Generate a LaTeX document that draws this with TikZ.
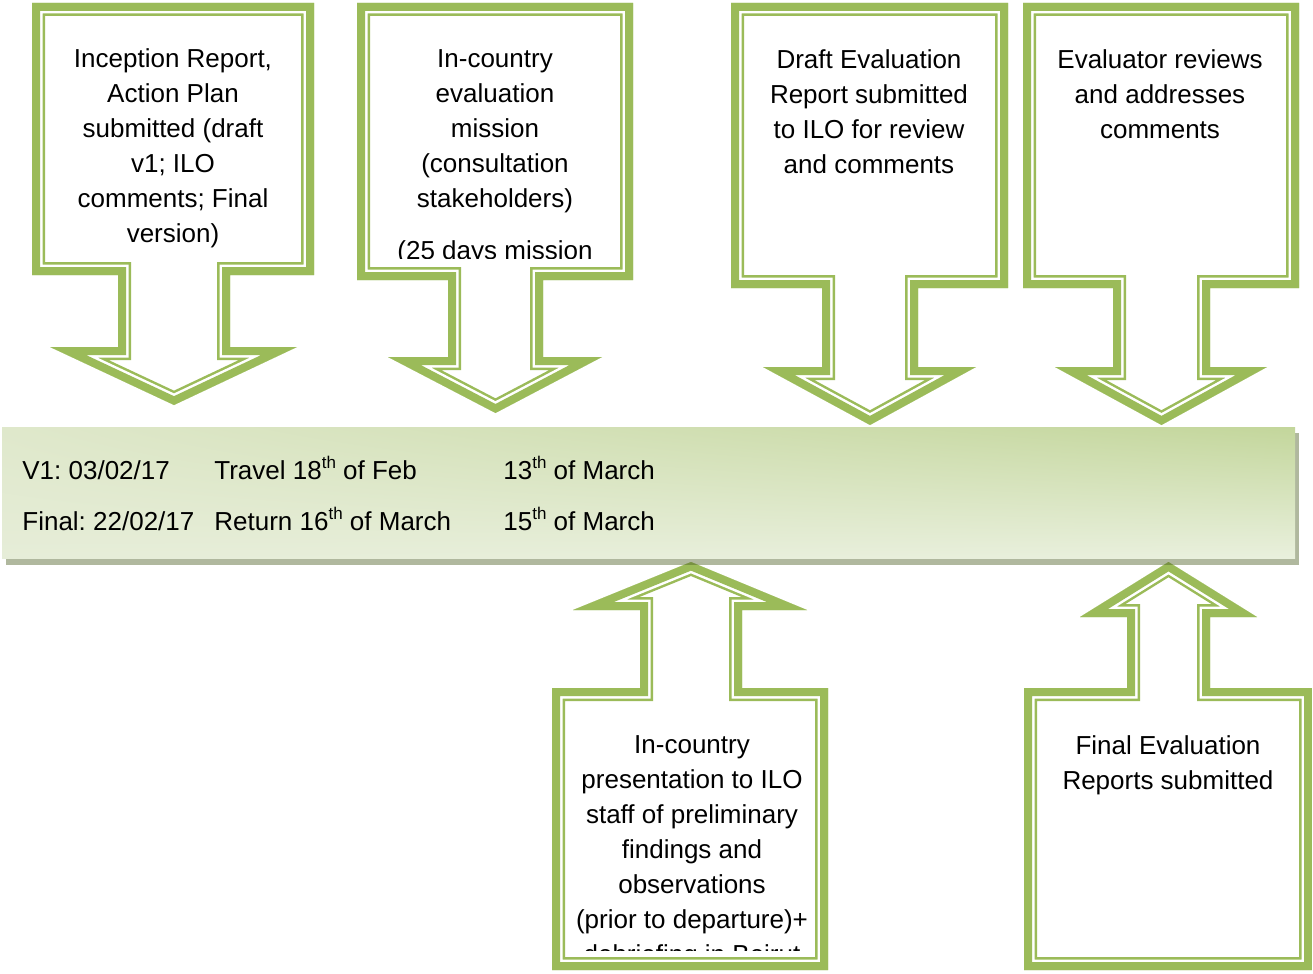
\documentclass[tikz,border=0pt]{standalone}
\usepackage{fontspec}
\setmainfont{Liberation Sans}
\usetikzlibrary{shadings}
\frenchspacing
\definecolor{calloutgreen}{HTML}{9BBB59}
\definecolor{bardark}{HTML}{C3D69B}
\definecolor{barleft}{HTML}{DFE8CB}
\definecolor{barlowleft}{HTML}{E6EDD8}
\definecolor{barlowright}{HTML}{E9F0DD}
\definecolor{barshadow}{HTML}{4F6228}
\newcommand{\ord}[1]{\raisebox{0.42em}{\fontsize{8.5}{8.5}\selectfont #1}}
\tikzset{
  greenline/.style={draw=calloutgreen, line join=miter, miter limit=20},
  calltext/.style={align=center, inner sep=0pt, anchor=north, font=\fontsize{13}{17.5}\selectfont},
  rowtext/.style={anchor=base west, inner sep=0pt, font=\fontsize{13}{17.5}\selectfont}
}
% thick-thin frame drawn inside the outline
\newcommand{\dblframe}[1]{%
  \begin{scope}
    \clip #1;
    \fill[white] #1;
    \draw[greenline, line width=13pt] #1;
    \draw[white, line width=10.5pt, line join=miter, miter limit=20] #1;
    \draw[greenline, line width=8pt] #1;
  \end{scope}}
\begin{document}
\begin{tikzpicture}[x=0.5pt,y=-0.5pt]
\useasboundingbox (0,0) rectangle (1313,974);
% callouts pointing down
\foreach \boxl/\boxr/\boxb/\shl/\shr/\wy/\wgl/\wgr/\tipy in {32/314/275/118/230/347/50/297/405, 357/633/280/448/543/357/388/602/413, 731/1008/288/822/918/367/763/976/425, 1023/1299/288/1113/1210/367/1055/1267/425}{
  \dblframe{(\boxl,3) -- (\boxr,3) -- (\boxr,\boxb) -- (\shr,\boxb) -- (\shr,\wy) -- (\wgr,\wy) -- ({(\shl+\shr)/2},\tipy) -- (\wgl,\wy) -- (\shl,\wy) -- (\shl,\boxb) -- (\boxl,\boxb) -- cycle}
}
% callouts pointing up
\foreach \boxl/\boxr/\boxt/\shl/\shr/\wy/\wgl/\wgr/\tipy in {552/828/688/640/742/610/573/807/562, 1024/1312/688/1127/1210/617/1080/1257/562}{
  \dblframe{(\boxl,970) -- (\boxl,\boxt) -- (\shl,\boxt) -- (\shl,\wy) -- (\wgl,\wy) -- ({(\shl+\shr)/2},\tipy) -- (\wgr,\wy) -- (\shr,\wy) -- (\shr,\boxt) -- (\boxr,\boxt) -- (\boxr,970) -- cycle}
}
% time bar
\fill[barshadow, opacity=.45] (6,433) rectangle (1299,565);
\shade[upper left=barleft, upper right=bardark, lower left=barlowleft, lower right=barlowright] (2,427) rectangle (1295,558);

\node[calltext] (inception) at (173,48) {Inception Report,\\Action Plan\\submitted (draft\\v1; ILO\\comments; Final\\version)};
\begin{scope}
  \clip (360,0) rectangle (630,258);
  \node[calltext] (mission) at (495,49) {In-country\\evaluation\\mission\\(consultation\\stakeholders)\\[8.5pt](25 days mission};
\end{scope}
\node[calltext] (draft) at (869,49) {Draft Evaluation\\Report submitted\\to ILO for review\\and comments};
\node[calltext] (review) at (1160,49) {Evaluator reviews\\and addresses\\comments};
\begin{scope}
  \clip (555,690) rectangle (825,950);
  \node[calltext] (presentation) at (692,735) {In-country\\presentation to ILO\\staff of preliminary\\findings and\\observations\\(prior to departure)+\\debriefing in Beirut};
\end{scope}
\node[calltext] (final) at (1168,735) {Final Evaluation\\Reports submitted};

\node[rowtext] (v1) at (22,479) {V1: 03/02/17};
\node[rowtext] (travel) at (214,479) {Travel 18\ord{th} of Feb};
\node[rowtext] (draftdate) at (503,479) {13\ord{th} of March};
\node[rowtext] (finalv) at (22,530) {Final: 22/02/17};
\node[rowtext] (return) at (214,530) {Return 16\ord{th} of March};
\node[rowtext] (presdate) at (503,530) {15\ord{th} of March};
\end{tikzpicture}
\end{document}
